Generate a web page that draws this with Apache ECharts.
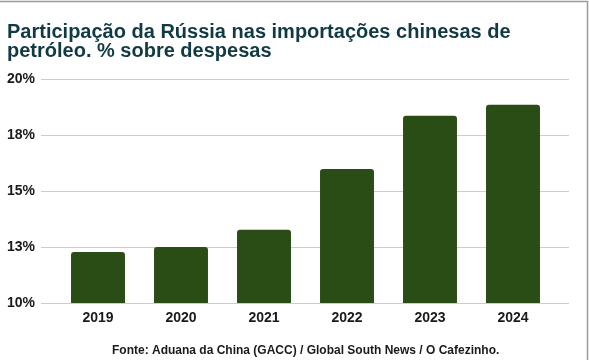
<!DOCTYPE html>
<html>
<head>
<meta charset="utf-8">
<script src="https://cdn.jsdelivr.net/npm/echarts@6/dist/echarts.min.js"></script>
<style>
  html, body { margin: 0; padding: 0; background: #fff; }
  #chart { width: 589px; height: 360px; }
</style>
</head>
<body>
<div id="chart"></div>
<script>
const years = ['2019', '2020', '2021', '2022', '2023', '2024']
const shares = [12.28, 12.5, 13.27, 15.98, 18.36, 18.85]
const yTicks = [10, 12.5, 15, 17.5, 20]

const titleText = 'Participação da Rússia nas importações chinesas de\npetróleo. % sobre despesas'
const sourceText = 'Fonte: Aduana da China (GACC) / Global South News / O Cafezinho.'

const chart = echarts.init(document.getElementById('chart'))

const option = {
  backgroundColor: '#fff',
  animation: false,
  textStyle: { fontFamily: 'Liberation Sans, Arial, sans-serif' },
  title: [
    {
      text: titleText,
      left: 2,
      top: 18,
      textStyle: {
        fontSize: 20,
        fontWeight: 'bold',
        color: '#113a44',
        lineHeight: 19
      }
    },
    {
      text: sourceText,
      left: 107,
      top: 340,
      textStyle: { fontSize: 12, fontWeight: 'bold', color: '#1a1a1a' }
    }
  ],
  graphic: [
    {
      type: 'polyline',
      shape: { points: [[0, 1.5], [587.5, 1.5], [587.5, 360]] },
      style: { stroke: '#9a9a9a', lineWidth: 1.5, fill: null }
    }
  ],
  grid: [
    // wide grid: only gridlines and y labels
    { left: 41, right: 20, top: 79, bottom: 57 },
    // bars
    { left: 56.5, right: 34.5, top: 79, bottom: 57 }
  ],
  xAxis: [
    { type: 'value', gridIndex: 0, show: false, min: 0, max: 1 },
    {
      type: 'category',
      gridIndex: 1,
      data: years,
      axisLine: { show: false },
      axisTick: { show: false },
      axisLabel: { fontSize: 14, fontWeight: 'bold', color: '#1a1a1a', margin: 8 }
    }
  ],
  yAxis: [
    {
      type: 'value',
      gridIndex: 0,
      min: yTicks[0],
      max: yTicks[yTicks.length - 1],
      interval: 2.5,
      axisLine: { show: false },
      axisTick: { show: false },
      axisLabel: {
        fontSize: 14,
        fontWeight: 'bold',
        color: '#1a1a1a',
        margin: 6,
        formatter: v => Math.round(v) + '%'
      },
      splitLine: { lineStyle: { color: '#cccccc', width: 1 } }
    },
    {
      type: 'value',
      gridIndex: 1,
      min: yTicks[0],
      max: yTicks[yTicks.length - 1],
      interval: 2.5,
      show: false,
      splitLine: { show: false }
    }
  ],
  series: [
    {
      type: 'bar',
      xAxisIndex: 1,
      yAxisIndex: 1,
      data: shares,
      barCategoryGap: '35%',
      itemStyle: { color: '#294d15', borderRadius: [3, 3, 0, 0] }
    }
  ]
}

chart.setOption(option)
</script>
</body>
</html>
